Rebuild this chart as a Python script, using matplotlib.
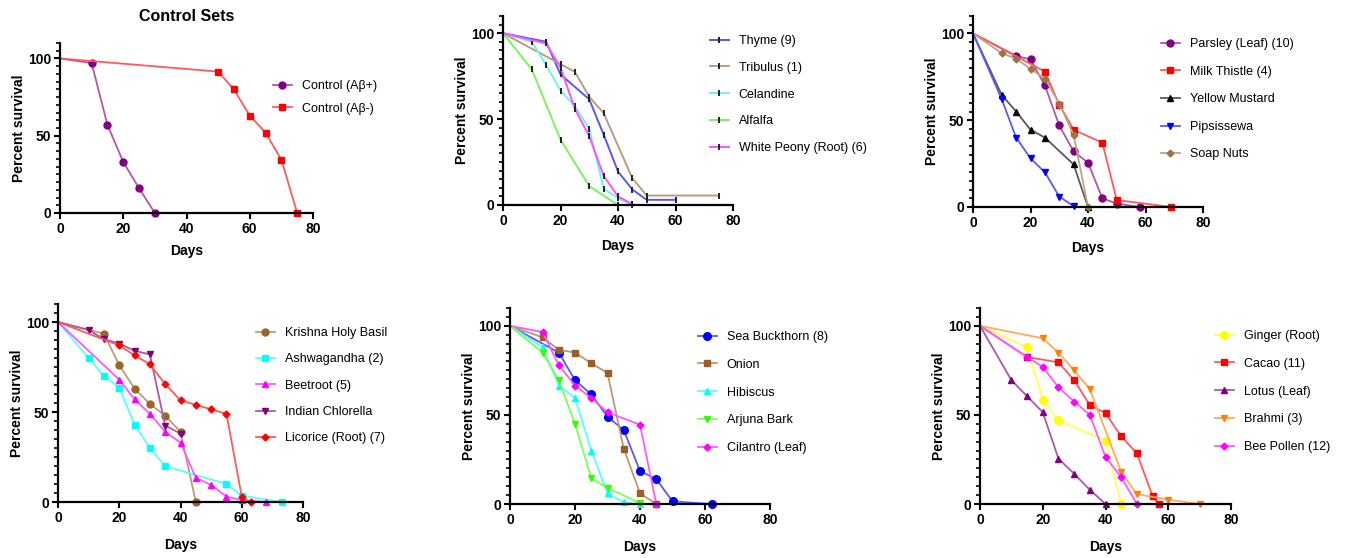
import matplotlib
matplotlib.use("Agg")
import matplotlib.pyplot as plt
from matplotlib.ticker import MultipleLocator
from matplotlib.colors import to_rgb

plt.rcParams['font.family'] = ['Liberation Sans', 'DejaVu Sans']

W, H = 1353, 558

# ---- data (days, percent survival) ----
# Control sets
ctrl_pos_days = [0, 10, 15, 20, 25, 30]
ctrl_pos_surv = [100, 97, 57, 33, 16, 0]
ctrl_neg_days = [0, 50, 55, 60, 65, 70, 75]
ctrl_neg_surv = [100, 91.5, 80, 63, 52, 34.5, 0]

# Panel 2
thyme_days = [0, 15, 20, 30, 35, 40, 45, 50, 60]
thyme_surv = [100, 95, 76, 61.5, 41, 19.5, 9, 3, 3]
tribulus_days = [0, 20, 25, 30, 35, 45, 50, 75]
tribulus_surv = [100, 82, 77.5, 63, 53.5, 15.5, 5.5, 5.5]
celandine_days = [0, 10, 15, 20, 25, 30, 35, 40, 45]
celandine_surv = [100, 95, 81.5, 66.5, 57.5, 44.5, 9.5, 4, 0]
alfalfa_days = [0, 10, 20, 30, 40]
alfalfa_surv = [100, 79, 38, 11, 0]
peony_days = [0, 15, 20, 25, 30, 35, 40, 45]
peony_surv = [100, 94, 80, 56, 40, 17, 5, 0.5]

# Panel 3
parsley_days = [0, 15, 20, 25, 30, 35, 40, 45, 50, 58]
parsley_surv = [100, 87, 85, 70, 47, 32, 25.5, 5, 2, 0]
thistle_days = [0, 25, 30, 35, 45, 50, 69]
thistle_surv = [100, 78, 59, 44.5, 37, 4, 0]
mustard_days = [0, 10, 15, 20, 25, 35, 40]
mustard_surv = [100, 64.5, 55, 44.5, 40, 24.5, 0]
pipsissewa_days = [0, 10, 15, 20, 25, 30, 35]
pipsissewa_surv = [100, 62, 40, 28, 20, 6, 0.5]
soapnut_days = [0, 10, 15, 20, 25, 30, 35, 40]
soapnut_surv = [100, 88.5, 85.5, 79.5, 74, 59.5, 41.5, 0]

# Panel 4
basil_days = [0, 15, 20, 25, 30, 35, 40, 45]
basil_surv = [100, 93.5, 76, 63, 54.5, 48, 39, 0]
ashwa_days = [0, 10, 15, 20, 25, 30, 35, 55, 60, 73]
ashwa_surv = [100, 80, 70, 63.5, 43, 30, 20, 10, 3.5, 0]
beet_days = [0, 20, 25, 30, 35, 40, 45, 50, 55, 60, 68]
beet_surv = [100, 68, 57, 49, 39, 33, 13.5, 9.5, 3, 1, 0]
chlorella_days = [0, 10, 15, 20, 25, 30, 35, 40]
chlorella_surv = [100, 95.5, 90.5, 88, 84, 82, 42.5, 38]
licorice_days = [0, 20, 25, 30, 35, 40, 45, 50, 55, 60, 63]
licorice_surv = [100, 87, 81.5, 76.5, 65.5, 56.5, 54, 51.5, 49, 3, 0]

# Panel 5
buckthorn_days = [0, 15, 20, 25, 30, 35, 40, 45, 50, 62]
buckthorn_surv = [100, 85, 69.5, 61.5, 49, 41.5, 18.5, 14, 1.5, 0]
onion_days = [0, 10, 15, 20, 25, 30, 35, 40, 45]
onion_surv = [100, 93.5, 86.5, 85, 79, 73.5, 31, 6, 0]
hibiscus_days = [0, 10, 15, 20, 25, 30, 35, 40]
hibiscus_surv = [100, 88, 66.5, 59.5, 30, 6, 1, 0]
arjuna_days = [0, 10, 15, 20, 25, 30, 40]
arjuna_surv = [100, 85, 69.5, 45, 14.5, 9, 0.5]
cilantro_days = [0, 10, 15, 20, 25, 30, 40, 45]
cilantro_surv = [100, 96.5, 78, 66.5, 59.5, 51.5, 44.5, 0]

# Panel 6
ginger_days = [0, 15, 20, 25, 40, 45]
ginger_surv = [100, 88, 58.5, 47, 35.5, 0]
cacao_days = [0, 15, 25, 30, 35, 40, 45, 50, 55, 57]
cacao_surv = [100, 82.5, 79.5, 69.5, 55.5, 51, 38, 28.5, 4.5, 0]
lotus_days = [0, 10, 15, 20, 25, 30, 35, 40]
lotus_surv = [100, 69.5, 60.5, 51.5, 25.5, 17, 8, 0]
brahmi_days = [0, 20, 25, 30, 35, 45, 50, 60, 70]
brahmi_surv = [100, 93, 85, 75, 64.5, 18, 5.5, 2.5, 0]
pollen_days = [0, 15, 20, 25, 30, 35, 40, 45, 50]
pollen_surv = [100, 82.5, 77, 65.5, 57.5, 50, 26.5, 15, 0]


def lighten(c, f):
    r, g, b = to_rgb(c)
    return (r + (1 - r) * f, g + (1 - g) * f, b + (1 - b) * f)


# (label, days, surv, color, marker, markersize)
panels = [
    [("Control (A\u03b2+)", ctrl_pos_days, ctrl_pos_surv, "#800080", "o", 5),
     ("Control (A\u03b2-)", ctrl_neg_days, ctrl_neg_surv, "#FF0000", "s", 5)],
    [("Thyme (9)", thyme_days, thyme_surv, "#3A3AF0", "|", 4),
     ("Tribulus (1)", tribulus_days, tribulus_surv, "#B08A66", "|", 4),
     ("Celandine", celandine_days, celandine_surv, "#55F0F0", "|", 4),
     ("Alfalfa", alfalfa_days, alfalfa_surv, "#66EE44", "|", 4),
     ("White Peony (Root) (6)", peony_days, peony_surv, "#FF33FF", "|", 4)],
    [("Parsley (Leaf) (10)", parsley_days, parsley_surv, "#800080", "o", 5),
     ("Milk Thistle (4)", thistle_days, thistle_surv, "#FF0000", "s", 5),
     ("Yellow Mustard", mustard_days, mustard_surv, "#000000", "^", 5),
     ("Pipsissewa", pipsissewa_days, pipsissewa_surv, "#0000FF", "v", 5),
     ("Soap Nuts", soapnut_days, soapnut_surv, "#9C7448", "D", 3.5)],
    [("Krishna Holy Basil", basil_days, basil_surv, "#9C6628", "o", 5),
     ("Ashwagandha (2)", ashwa_days, ashwa_surv, "#00FFFF", "s", 5),
     ("Beetroot (5)", beet_days, beet_surv, "#FF00FF", "^", 5),
     ("Indian Chlorella", chlorella_days, chlorella_surv, "#800080", "v", 5),
     ("Licorice (Root) (7)", licorice_days, licorice_surv, "#FF0000", "D", 3.5)],
    [("Sea Buckthorn (8)", buckthorn_days, buckthorn_surv, "#0000FF", "o", 5.5),
     ("Onion", onion_days, onion_surv, "#9C5E28", "s", 5),
     ("Hibiscus", hibiscus_days, hibiscus_surv, "#00FFFF", "^", 5),
     ("Arjuna Bark", arjuna_days, arjuna_surv, "#33FF00", "v", 5),
     ("Cilantro (Leaf)", cilantro_days, cilantro_surv, "#FF00FF", "D", 3.5)],
    [("Ginger (Root)", ginger_days, ginger_surv, "#FFFF00", "o", 5.5),
     ("Cacao (11)", cacao_days, cacao_surv, "#FF0000", "s", 5),
     ("Lotus (Leaf)", lotus_days, lotus_surv, "#800080", "^", 5),
     ("Brahmi (3)", brahmi_days, brahmi_surv, "#FF8000", "v", 5),
     ("Bee Pollen (12)", pollen_days, pollen_surv, "#FF00FF", "D", 3.5)],
]

# axes boxes in pixels: left, right (day 80), top (110 %), bottom (0 %)
boxes = [
    (60, 313, 43, 213),
    (503, 733, 16, 205),
    (973, 1203, 16, 207),
    (58, 303, 304, 502),
    (510, 770, 308, 504),
    (980, 1231, 308, 504),
]
# legend upper-left anchor in pixels, label spacing, x-label pad
legends = [
    (273, 80, 0.85, 5.5),
    (710, 35, 1.18, 8),
    (1161, 38, 1.25, 8),
    (256, 327, 1.15, 9),
    (698, 331, 1.26, 9),
    (1215, 330, 1.26, 9),
]

fig = plt.figure(figsize=(W / 100, H / 100), dpi=100)

for series, (l, r, t, b), (lx, ly, lsp, xpad) in zip(panels, boxes, legends):
    ax = fig.add_axes([l / W, 1 - b / H, (r - l) / W, (b - t) / H])
    for label, d, s, c, m, ms in series:
        if m == "|":
            ax.plot(d, s, color=lighten(c, 0.15), lw=1.4, marker="|", ms=ms,
                    mec="#222222", mew=1.4, markevery=slice(1, None),
                    clip_on=False, label=label)
        else:
            ax.plot(d, s, color=lighten(c, 0.35), lw=1.3, marker=m, ms=ms,
                    mfc=c, mec=c, markevery=slice(1, None),
                    clip_on=False, label=label)
    ax.set_xlim(0, 80)
    ax.set_ylim(0, 110)
    ax.set_xticks([0, 20, 40, 60, 80])
    ax.set_yticks([0, 50, 100])
    ax.yaxis.set_minor_locator(MultipleLocator(5))
    for sp in ("top", "right"):
        ax.spines[sp].set_visible(False)
    for sp in ("left", "bottom"):
        ax.spines[sp].set_linewidth(1.6)
    ax.tick_params(which="major", direction="out", length=4.5, width=1.5,
                   labelsize=10, pad=2)
    ax.tick_params(which="minor", direction="out", length=3, width=1.2)
    for lab in ax.get_xticklabels() + ax.get_yticklabels():
        lab.set_fontweight("bold")
    ax.set_xlabel("Days", fontsize=10, fontweight="bold", labelpad=xpad)
    ax.set_ylabel("Percent survival", fontsize=10, fontweight="bold", labelpad=1)
    fig.legend(handles=ax.get_lines(), loc="upper left",
               bbox_to_anchor=(lx / W, 1 - ly / H), bbox_transform=fig.transFigure,
               frameon=False, fontsize=9, handlelength=1.5, handletextpad=0.8,
               labelspacing=lsp, borderpad=0, borderaxespad=0)
    if series is panels[0]:
        ax.set_title("Control Sets", fontsize=11.5, fontweight="bold", pad=16)

fig.savefig("out.png", dpi=100)
